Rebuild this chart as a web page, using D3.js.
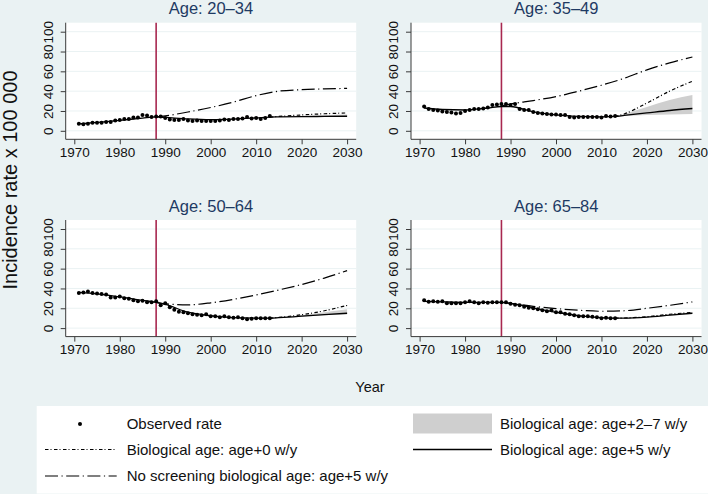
<!DOCTYPE html>
<html><head><meta charset="utf-8">
<script src="https://cdn.jsdelivr.net/npm/d3@7"></script>
<style>
html,body{margin:0;padding:0;background:#eaf2f3;}
svg{display:block;font-family:"Liberation Sans",Arial,Helvetica,sans-serif;}
</style>
</head><body>
<svg id="chart" width="708" height="494"></svg>
<script>
// ---------------- DATA ----------------
const panelTitles = ["Age: 20–34", "Age: 35–49", "Age: 50–64", "Age: 65–84"];

const obsYears = [1971,1972,1973,1974,1975,1976,1977,1978,1979,1980,1981,1982,1983,1984,1985,1986,1987,1988,1989,1990,
  1991,1992,1993,1994,1995,1996,1997,1998,1999,2000,2001,2002,2003,2004,2005,2006,2007,2008,2009,2010,2011,2012,2013];
const obs2034 = [7,6.5,7,8,8,8,9,9,10.5,11,12,12,13.5,13.5,16,15.5,14,14.5,14.5,13,
  11.5,11,11,12,10.5,10,10.5,10,10,10,10,10.5,11.5,11,12,12,12.5,14,12.5,13,12,13,15];
const obs3549 = [24.5,22,21,20.5,19.5,19,18.5,17.5,18,20,21,22,22,22.5,23.5,26,26.5,27,27,26,
  27,22,21,21,19,18,17.5,17,16.5,16.5,16,16,14,13.5,14,14,14,14,14,13.5,15,14.5,15];
const obs5064 = [35.5,36,37,35.5,35,34.5,34,31,31,32,30,29.5,28,27,27.5,26,26,27,23,25,
  21,18.5,16.5,16,15,14,13.5,13,14,12,12,11,12,11,10.5,11,10,9,9.5,10,10,10,10];
const obs6584 = [28,26.5,27,26.5,27,25,25,25,25,26,27,26,25,26,25.5,26,26,26,26,24.5,
  23.5,23,21.5,20.5,20,19,18,17,18,16,16,14.5,14,13,12,12,12,11.5,11,10,10.5,10,10];

// Fitted, biological age: age+5 w/y (solid)
const fitYears = [1971,1975,1980,1985,1988,1990,1995,2000,2005,2010,2013,2015,2020,2025,2030];
const fit2034 = [7,8.5,10.5,12.8,14,13.5,12,11.3,11.8,13,13.8,14,14.3,14.5,14.7];
const fit3549 = [23,21.5,21,23,24.5,24.5,19,16,14.5,14,14.5,15.5,18,20.5,22.5];
const fit5064 = [36,34.5,31.5,28,26,24,16,12.5,10.5,10,10,10.5,12,13.5,15];
const fit6584 = [27,26.5,26,26,26,25,20.5,16,12.5,10.5,10,10,11,13,15];

// Band, biological age: age+2–7 w/y
const bandYears = [2013,2015,2020,2025,2030];
const bandLo2034 = [13.8,13.9,14,14.1,14.2], bandHi2034 = [13.8,14.3,15,15.8,16.5];
const bandLo3549 = [14.5,15,16,16.5,17],     bandHi3549 = [14.5,17,24,31,36];
const bandLo5064 = [10,10.3,11.5,13,14],     bandHi5064 = [10,10.8,13,16,19];
const bandLo6584 = [10,10,10.8,12.5,14.5],   bandHi6584 = [10,10.2,11.5,13.8,16];

// Biological age: age+0 w/y (short dash-dot)
const age0Years = [2013,2015,2020,2025,2030];
const age02034 = [13.8,14.5,16,17.2,18];
const age03549 = [14.5,17,28,40,50];
const age05064 = [10,10.8,13.5,17.5,23];
const age06584 = [10,10.2,11.5,14,15.8];

// No screening biological age: age+5 w/y (long dash-dot)
const noScrYears = [1988,1990,1995,2000,2005,2010,2015,2020,2025,2030];
const noScr2034 = [14,15,19,23.5,29,35.5,40,41.5,42.3,42.8];
const noScr3549 = [25,27,30.5,34.5,40,46,53,61.5,68.5,74.5];
const noScr5064 = [26,24.5,23.5,25.5,29,33.5,38.5,44,50.5,58];
const noScr6584 = [26,25,22,19.7,18,17,17.5,20,23,26.5];

const screeningYear = 1988;
const xTicks = [1970,1980,1990,2000,2010,2020,2030];
const yTicks = [0,20,40,60,80,100];

const legendLabels = ["Observed rate","Biological age: age+0 w/y","No screening biological age: age+5 w/y",
  "Biological age: age+2–7 w/y","Biological age: age+5 w/y"];

// ---------------- DRAW ----------------
const svg = d3.select("#chart");
svg.append("rect").attr("width",708).attr("height",494).attr("fill","#eaf2f3");

const panels = [
  {title:panelTitles[0], obs:obs2034, fit:fit2034, lo:bandLo2034, hi:bandHi2034, a0:age02034, ns:noScr2034},
  {title:panelTitles[1], obs:obs3549, fit:fit3549, lo:bandLo3549, hi:bandHi3549, a0:age03549, ns:noScr3549},
  {title:panelTitles[2], obs:obs5064, fit:fit5064, lo:bandLo5064, hi:bandHi5064, a0:age05064, ns:noScr5064},
  {title:panelTitles[3], obs:obs6584, fit:fit6584, lo:bandLo6584, hi:bandHi6584, a0:age06584, ns:noScr6584}
];
const colLeft = [65.7, 411], rowTop = [22.7, 220];
const pw = 290.5, ph = 116.6;
const axisCol = "#3a3a3a";
const dashShort = "3.5,2,1,2.5";
const dashLong = "13,3.5,1.2,3.5";

panels.forEach((p, i) => {
  const L = colLeft[i % 2], T = rowTop[Math.floor(i / 2)], B = T + ph, R = L + pw;
  const x = d3.scaleLinear().domain([1970, 2030]).range([L + 8.6, L + 281.4]);
  const y = d3.scaleLinear().domain([0, 100]).range([B - 8.5, T + 9]);
  const g = svg.append("g");

  g.append("rect").attr("x", L).attr("y", T).attr("width", pw).attr("height", ph).attr("fill", "#fff");
  g.selectAll(".grid").data(yTicks).join("line")
    .attr("x1", L).attr("x2", R).attr("y1", d => y(d)).attr("y2", d => y(d))
    .attr("stroke", "#eaf2f3").attr("stroke-width", 1);

  // band
  const band = bandYears.map((yr, k) => ({yr, lo: p.lo[k], hi: p.hi[k]}));
  g.append("path").datum(band)
    .attr("d", d3.area().x(d => x(d.yr)).y0(d => y(d.lo)).y1(d => y(d.hi)).curve(d3.curveMonotoneX))
    .attr("fill", "#cfcfcf");

  // screening line
  g.append("line").attr("x1", x(screeningYear)).attr("x2", x(screeningYear)).attr("y1", T).attr("y2", B)
    .attr("stroke", "#a8284f").attr("stroke-width", 1.6);

  const line = d3.line().x(d => x(d[0])).y(d => y(d[1])).curve(d3.curveMonotoneX);
  g.append("path").datum(noScrYears.map((yr, k) => [yr, p.ns[k]])).attr("d", line)
    .attr("fill", "none").attr("stroke", "#000").attr("stroke-width", 1.2).attr("stroke-dasharray", dashLong);
  g.append("path").datum(age0Years.map((yr, k) => [yr, p.a0[k]])).attr("d", line)
    .attr("fill", "none").attr("stroke", "#000").attr("stroke-width", 1.2).attr("stroke-dasharray", dashShort);
  g.append("path").datum(fitYears.map((yr, k) => [yr, p.fit[k]])).attr("d", line)
    .attr("fill", "none").attr("stroke", "#000").attr("stroke-width", 1.3);

  g.selectAll(".dot").data(obsYears.map((yr, k) => [yr, p.obs[k]])).join("circle")
    .attr("cx", d => x(d[0])).attr("cy", d => y(d[1])).attr("r", 2).attr("fill", "#000");

  // axes
  const ax = g.append("g").attr("transform", `translate(0,${B})`)
    .call(d3.axisBottom(x).tickValues(xTicks).tickFormat(d3.format("d")).tickSize(5).tickPadding(3).tickSizeOuter(0));
  ax.select(".domain").remove();
  ax.selectAll("line").attr("stroke", axisCol);
  ax.selectAll("text").attr("font-size", "13.5px").attr("fill", "#111").attr("font-family", null);

  const ay = g.append("g").attr("transform", `translate(${L},0)`)
    .call(d3.axisLeft(y).tickValues(yTicks).tickFormat(d3.format("d")).tickSize(5).tickSizeOuter(0));
  ay.select(".domain").remove();
  ay.selectAll("line").attr("stroke", axisCol);
  ay.selectAll("text").attr("transform", "rotate(-90)").attr("x", 0).attr("y", -13).attr("dy", 0)
    .attr("text-anchor", "middle").attr("font-size", "13.5px").attr("fill", "#111").attr("font-family", null);

  g.append("line").attr("x1", L).attr("x2", R).attr("y1", B).attr("y2", B).attr("stroke", axisCol).attr("stroke-width", 1);
  g.append("line").attr("x1", L).attr("x2", L).attr("y1", T).attr("y2", B).attr("stroke", axisCol).attr("stroke-width", 1);

  g.append("text").attr("x", (L + R) / 2).attr("y", T - 8.5).attr("text-anchor", "middle")
    .attr("font-size", "16.5px").attr("fill", "#1e3a63").text(p.title);
});

// axis titles
svg.append("text").attr("transform", "translate(17,180) rotate(-90)").attr("text-anchor", "middle")
  .attr("font-size", "20px").attr("fill", "#111").text("Incidence rate x 100 000");
svg.append("text").attr("x", 370).attr("y", 392).attr("text-anchor", "middle")
  .attr("font-size", "14.5px").attr("fill", "#111").text("Year");

// legend
const lg = svg.append("g");
lg.append("rect").attr("x", 36.7).attr("y", 406).attr("width", 671.3).attr("height", 87.5).attr("fill", "#fff");
const rowsY = [424, 449.5, 476];
const lx0 = 45, lx1 = 116.7, tx = 126.7, rx0 = 413, rx1 = 492, rtx = 500;
lg.append("circle").attr("cx", 80).attr("cy", rowsY[0]).attr("r", 2).attr("fill", "#000");
lg.append("line").attr("x1", lx0).attr("x2", lx1).attr("y1", rowsY[1]).attr("y2", rowsY[1])
  .attr("stroke", "#000").attr("stroke-width", 1.2).attr("stroke-dasharray", dashShort);
lg.append("line").attr("x1", lx0).attr("x2", lx1).attr("y1", rowsY[2]).attr("y2", rowsY[2])
  .attr("stroke", "#000").attr("stroke-width", 1.2).attr("stroke-dasharray", dashLong);
lg.append("rect").attr("x", rx0).attr("y", rowsY[0] - 10.5).attr("width", rx1 - rx0).attr("height", 20).attr("fill", "#cfcfcf");
lg.append("line").attr("x1", rx0).attr("x2", rx1).attr("y1", rowsY[1]).attr("y2", rowsY[1])
  .attr("stroke", "#000").attr("stroke-width", 1.3);
[[tx, rowsY[0], legendLabels[0]], [tx, rowsY[1], legendLabels[1]], [tx, rowsY[2], legendLabels[2]],
 [rtx, rowsY[0], legendLabels[3]], [rtx, rowsY[1], legendLabels[4]]].forEach(([xx, yy, t]) => {
  lg.append("text").attr("x", xx).attr("y", yy + 5).attr("font-size", "15px").attr("fill", "#111").text(t);
});
</script>
</body></html>
